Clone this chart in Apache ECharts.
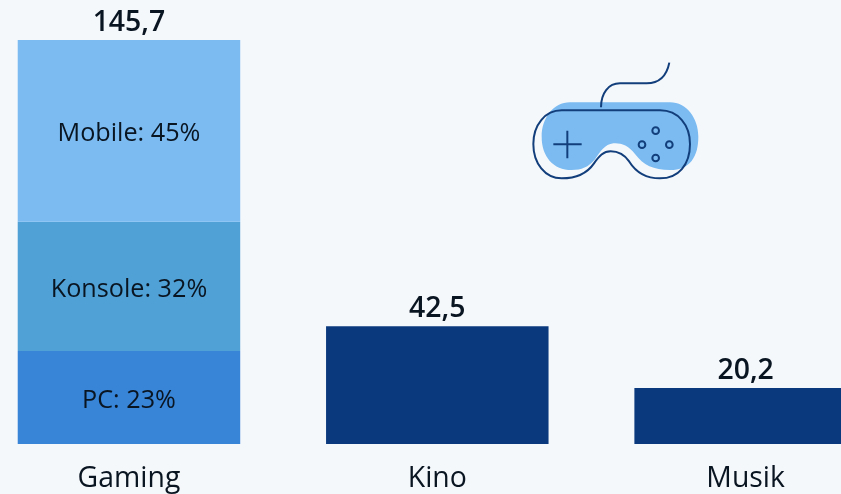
<!DOCTYPE html>
<html>
<head>
<meta charset="utf-8">
<style>html,body{margin:0;padding:0;background:#f5f8fb}#chart{width:841px;height:494px}</style>
<script src="https://cdn.jsdelivr.net/npm/echarts@6/dist/echarts.min.js"></script>
</head>
<body>
<div id="chart"></div>
<script>
// Revenue by entertainment sector, with the gaming bar split by platform share
const categories = ['Gaming', 'Kino', 'Musik'];
const totals = [145.7, 42.5, 20.2];
const platforms = ['PC', 'Konsole', 'Mobile'];
const platformShares = [23, 32, 45];
const platformColors = ['#3884d6', '#4fa1d6', '#7bbbf2'];
const otherSectors = [null, 42.5, 20.2];

const textColor = '#0a1522';
const barWidth = 222.5;

const comma = v => String(v).replace('.', ',');

const platformSeries = platforms.map((name, i) => ({
  type: 'bar',
  name,
  stack: 'sector',
  barWidth,
  silent: true,
  data: [totals[0] * platformShares[i] / 100, null, null],
  itemStyle: { color: platformColors[i] },
  label: {
    show: true,
    position: 'inside',
    offset: [0, 3],
    formatter: () => name + ': ' + platformShares[i] + '%',
    fontFamily: 'Open Sans',
    fontSize: 25.2,
    color: textColor
  }
}));

// Controller pictogram, drawn in a 3x local space
const renderIcon = () => ({
  type: 'group',
  x: 520,
  y: 50,
  scaleX: 1 / 3,
  scaleY: 1 / 3,
  silent: true,
  children: [
    {
      type: 'path',
      shape: { pathData: 'M150 157 L450 157 C500 157 535 205 535 260 C535 320 510 360 450 360 C400 360 370 345 345 312 C325 285 300 278 280 280 C255 283 240 305 225 328 C205 352 185 360 155 360 C100 360 65 320 65 260 C65 205 100 157 150 157 Z' },
      style: { fill: '#7bbbf2', stroke: null }
    },
    {
      type: 'path',
      shape: { pathData: 'M125 181 L420 181 C475 181 510 225 510 282 C510 345 475 385 420 385 C380 385 350 370 328 335 C312 312 295 304 272 304 C250 304 238 318 222 340 C200 372 165 385 125 385 C75 385 40 340 40 282 C40 225 75 181 125 181 Z M243 172 C243 130 265 100 300 100 L380 100 C420 100 440 78 448 38 M100 283 L185 283 M142 242 L142 325' },
      style: { fill: null, stroke: '#123f7c', lineWidth: 6 }
    },
    ...[[407, 242], [366, 284], [448, 284], [407, 324]].map(([cx, cy]) => ({
      type: 'circle',
      shape: { cx, cy, r: 10 },
      style: { fill: null, stroke: '#123f7c', lineWidth: 6 }
    }))
  ]
});

const chart = echarts.init(document.getElementById('chart'), null, { renderer: 'canvas' });
chart.setOption({
  animation: false,
  backgroundColor: '#f5f8fb',
  grid: { left: -25.2, top: 40, width: 925, height: 404, containLabel: false, outerBoundsMode: 'none' },
  xAxis: {
    type: 'category',
    data: categories,
    axisLine: { show: false },
    axisTick: { show: false },
    axisLabel: { fontFamily: 'Open Sans', fontSize: 28.4, color: textColor, margin: 21, interval: 0 }
  },
  yAxis: { type: 'value', min: 0, max: 145.7, show: false },
  series: [
    ...platformSeries,
    {
      type: 'bar',
      name: 'Sektor',
      stack: 'sector',
      barWidth,
      silent: true,
      data: otherSectors,
      itemStyle: { color: '#0a3a7d' }
    },
    {
      // Invisible carrier for the totals printed above each bar
      type: 'line',
      name: 'Gesamt',
      data: totals,
      silent: true,
      symbol: 'circle',
      symbolSize: 0,
      showSymbol: true,
      showAllSymbol: true,
      clip: false,
      lineStyle: { opacity: 0 },
      label: {
        show: true,
        position: 'top',
        distance: 3,
        formatter: p => comma(p.value),
        fontFamily: 'Open Sans',
        fontWeight: 600,
        fontSize: 28.4,
        color: textColor
      }
    },
    {
      type: 'custom',
      name: 'Symbol',
      coordinateSystem: 'none',
      silent: true,
      clip: false,
      data: [[0]],
      renderItem: renderIcon
    }
  ]
});
</script>
</body>
</html>
